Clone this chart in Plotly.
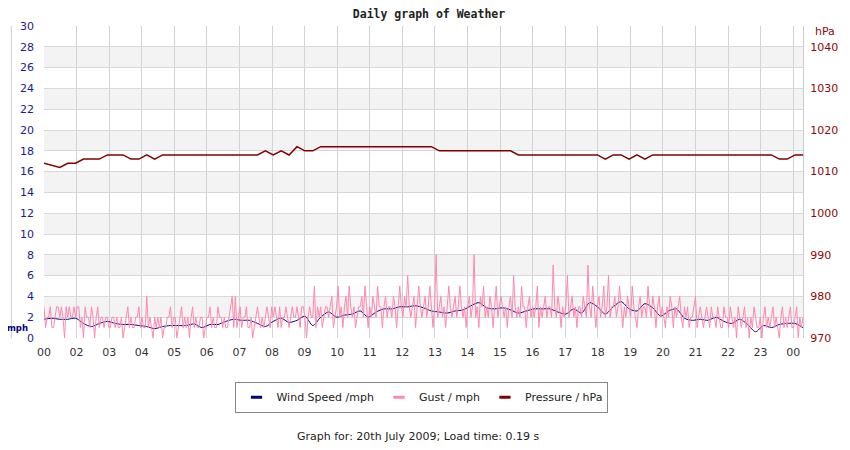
import plotly.graph_objects as go

# 3-minute gusts (mph), one row per hour, last value is 24:00
gust = [
    3, 1, 2, 2, 3, 1, 1, 2, 3, 3, 2, 3, 2, 0, 3, 2, 3, 2, 2, 3,
    2, 3, 3, 1, 2, 0, 3, 2, 2, 1, 3, 2, 0, 2, 3, 1, 2, 2, 1, 2,
    2, 1, 1, 2, 2, 1, 2, 1, 1, 2, 0, 1, 2, 3, 1, 2, 1, 1, 2, 2,
    3, 1, 2, 1, 1, 4, 1, 2, 1, 0, 2, 1, 2, 1, 2, 0, 1, 1, 2, 2,
    3, 1, 2, 2, 0, 1, 2, 3, 1, 2, 1, 2, 0, 2, 3, 1, 2, 1, 1, 2,
    2, 0, 1, 2, 2, 3, 1, 2, 1, 1, 3, 2, 2, 1, 2, 1, 1, 2, 3, 4,
    1, 4, 1, 2, 3, 1, 2, 2, 3, 1, 1, 2, 0, 1, 2, 3, 2, 1, 2, 1,
    2, 3, 2, 1, 3, 2, 3, 2, 1, 3, 1, 2, 2, 3, 2, 1, 2, 3, 2, 2,
    3, 2, 1, 3, 3, 2, 0, 2, 3, 2, 2, 5, 1, 3, 2, 3, 1, 2, 3, 3,
    2, 3, 4, 1, 2, 3, 5, 2, 3, 1, 3, 4, 2, 5, 3, 2, 3, 1, 2, 3,
    3, 4, 2, 5, 3, 1, 3, 2, 4, 3, 2, 5, 3, 3, 1, 3, 4, 2, 3, 3,
    2, 4, 3, 1, 3, 5, 3, 2, 4, 3, 6, 3, 2, 3, 4, 1, 3, 5, 3, 2,
    3, 4, 2, 3, 5, 3, 1, 3, 8, 2, 3, 4, 2, 3, 1, 3, 5, 3, 2, 3,
    4, 2, 3, 5, 3, 2, 3, 1, 3, 4, 2, 3, 8, 2, 3, 1, 4, 3, 5, 2,
    3, 2, 4, 3, 1, 3, 5, 2, 3, 4, 3, 2, 3, 1, 3, 4, 2, 6, 3, 2,
    3, 2, 5, 3, 3, 1, 3, 4, 2, 3, 2, 3, 5, 1, 3, 2, 3, 4, 2, 3,
    3, 2, 7, 3, 2, 4, 3, 1, 3, 2, 3, 6, 2, 3, 4, 2, 3, 1, 3, 3,
    2, 4, 3, 2, 7, 3, 2, 5, 3, 1, 3, 4, 2, 3, 5, 2, 3, 6, 2, 3,
    3, 4, 2, 3, 5, 3, 1, 3, 2, 4, 3, 2, 5, 3, 2, 1, 3, 4, 2, 3,
    3, 2, 5, 3, 2, 4, 3, 1, 3, 4, 2, 3, 2, 1, 3, 2, 4, 3, 1, 3,
    2, 3, 4, 2, 1, 3, 2, 3, 1, 2, 2, 3, 4, 1, 2, 3, 2, 1, 2, 3,
    2, 1, 3, 2, 2, 1, 3, 2, 1, 1, 3, 2, 2, 1, 3, 2, 1, 2, 0, 3,
    2, 1, 2, 3, 1, 2, 0, 2, 1, 3, 2, 1, 1, 2, 0, 2, 3, 1, 2, 1,
    2, 3, 1, 2, 1, 0, 2, 3, 1, 2, 1, 2, 3, 1, 1, 2, 3, 0, 2, 1,
    2,
]

# 15-minute average wind speed (mph)
wind = [
    1.8, 1.9, 1.8, 1.8,
    1.9, 1.4, 1.1, 1.4,
    1.6, 1.4, 1.3, 1.3,
    1.2, 1.1, 0.9, 1.1,
    1.2, 1.2, 1.2, 1.35,
    1.0, 1.3, 1.3, 1.6,
    1.8, 1.7, 1.7, 1.4,
    1.1, 1.6, 1.9, 1.5,
    1.7, 2.1, 1.2, 2.0,
    2.5, 2.0, 2.2, 2.3,
    2.6, 2.0, 2.5, 2.8,
    2.8, 3.0, 3.0, 3.1,
    2.9, 2.6, 2.5, 2.4,
    2.6, 2.7, 3.1, 3.4,
    2.9, 2.8, 2.9, 2.7,
    2.4, 2.6, 2.8, 2.8,
    2.8, 2.5, 2.3, 2.8,
    2.4, 3.4, 3.0, 2.3,
    3.0, 3.5, 2.8, 2.6,
    3.3, 2.9, 2.1, 2.6,
    2.8, 1.9, 1.7, 1.8,
    1.7, 2.0, 1.6, 1.4,
    1.8, 1.3, 0.6, 1.2,
    1.0, 1.3, 1.4, 1.4,
    1.0,
]

# 15-minute pressure (hPa)
pressure = [
    1012, 1011.5, 1011, 1012,
    1012, 1013, 1013, 1013,
    1014, 1014, 1014, 1013,
    1013, 1014, 1013, 1014,
    1014, 1014, 1014, 1014,
    1014, 1014, 1014, 1014,
    1014, 1014, 1014, 1014,
    1015, 1014, 1015, 1014,
    1016, 1015, 1015, 1016,
    1016, 1016, 1016, 1016,
    1016, 1016, 1016, 1016,
    1016, 1016, 1016, 1016,
    1016, 1016, 1015, 1015,
    1015, 1015, 1015, 1015,
    1015, 1015, 1015, 1015,
    1014, 1014, 1014, 1014,
    1014, 1014, 1014, 1014,
    1014, 1014, 1014, 1013,
    1014, 1014, 1013, 1014,
    1013, 1014, 1014, 1014,
    1014, 1014, 1014, 1014,
    1014, 1014, 1014, 1014,
    1014, 1014, 1014, 1014,
    1014, 1013, 1013, 1014,
    1014,
]

tick_labels = ["00", "02", "03", "04", "05", "06", "07", "08", "09", "10", "11", "12",
               "13", "14", "15", "16", "17", "18", "19", "20", "21", "22", "23", "00"]
tick_step = 1.03  # hours between x ticks

t_gust = [i / 20 for i in range(len(gust))]
t_15 = [i / 4 for i in range(len(wind))]

NAVY = "#000080"
PINK = "#ff88ae"
MAROON = "#800000"
RED_TXT = "#8b0a0a"
FONT = "DejaVu Sans"

fig = go.Figure()

fig.add_trace(go.Scatter(x=t_15, y=wind, mode="lines", showlegend=False,
                         line=dict(color=NAVY, width=1, shape="spline", smoothing=0.8)))
fig.add_trace(go.Scatter(x=t_gust, y=gust, mode="lines", showlegend=False,
                         line=dict(color=PINK, width=1)))
fig.add_trace(go.Scatter(x=t_15, y=pressure, mode="lines", showlegend=False, yaxis="y2",
                         line=dict(color=MAROON, width=1.5)))

# legend entries with short line symbols
for name, col in [("Wind Speed /mph", NAVY), ("Gust / mph", PINK), ("Pressure / hPa", MAROON)]:
    fig.add_trace(go.Scatter(x=[None], y=[None], mode="markers", name=name,
                             marker=dict(symbol="line-ew-open", size=8, color=col,
                                         line=dict(color=col, width=3))))

# alternating grey bands
shapes = []
for lo in range(2, 30, 4):
    shapes.append(dict(type="rect", xref="paper", yref="y", x0=0, x1=1, y0=lo, y1=lo + 2,
                       fillcolor="#f3f3f3", line=dict(width=0), layer="below"))
shapes.append(dict(type="line", xref="paper", yref="paper", x0=-0.043, x1=-0.043, y0=0, y1=1,
                   line=dict(color="#cccccc", width=1)))

# the page adds an 8px body margin, so the figure is 8px smaller on each side
fig.update_layout(
    width=842, height=434,
    margin=dict(l=34, r=38, t=15, b=104),
    paper_bgcolor="white", plot_bgcolor="rgba(0,0,0,0)",
    font=dict(family=FONT, size=11, color="#333333"),
    title=dict(text="<b>Daily graph of Weather</b>", x=0.5, xanchor="center",
               y=1 - 6 / 434, yanchor="middle",
               font=dict(family="DejaVu Sans Mono", size=11.5, color="#222222")),
    xaxis=dict(range=[0, 24], tickvals=[i * tick_step for i in range(len(tick_labels))],
               ticktext=tick_labels, showgrid=True, gridcolor="#d3d3d3", gridwidth=1,
               zeroline=False, showline=False, ticks="", ticklabelstandoff=6,
               tickfont=dict(family=FONT, size=11, color="#333333")),
    yaxis=dict(range=[0, 30], dtick=2, showgrid=True, gridcolor="#d8d8d8", zeroline=False,
               showline=False, ticks="", ticklabelstandoff=9,
               tickfont=dict(family=FONT, size=11, color="#1c1c8a")),
    yaxis2=dict(range=[970, 1045], tickvals=[970, 980, 990, 1000, 1010, 1020, 1030, 1040],
                overlaying="y", side="right", showgrid=False, zeroline=False,
                showline=True, linecolor="#cccccc", ticks="", ticklabelstandoff=4,
                tickfont=dict(family=FONT, size=11, color=RED_TXT)),
    legend=dict(orientation="h", x=0.498, xanchor="center", y=-0.14, yanchor="top",
                bordercolor="#888888", borderwidth=1, bgcolor="white",
                font=dict(family=FONT, size=11, color="#222222"), itemwidth=30),
    shapes=shapes,
    annotations=[
        dict(text="<b>mph</b>", xref="paper", yref="paper", x=-0.0195, y=0.031,
             xanchor="right", yanchor="middle", showarrow=False, borderpad=0,
             font=dict(family=FONT, size=8.5, color=NAVY)),
        dict(text="hPa", xref="paper", yref="paper", x=1.013, y=0.981,
             xanchor="left", yanchor="middle", showarrow=False,
             font=dict(family=FONT, size=11, color=RED_TXT)),
        dict(text="Graph for: 20th July 2009; Load time: 0.19 s", xref="paper", yref="paper",
             x=0.493, y=-0.317, xanchor="center", yanchor="middle", showarrow=False,
             font=dict(family=FONT, size=11, color="#222222")),
    ],
)

fig.write_html("out.html")
